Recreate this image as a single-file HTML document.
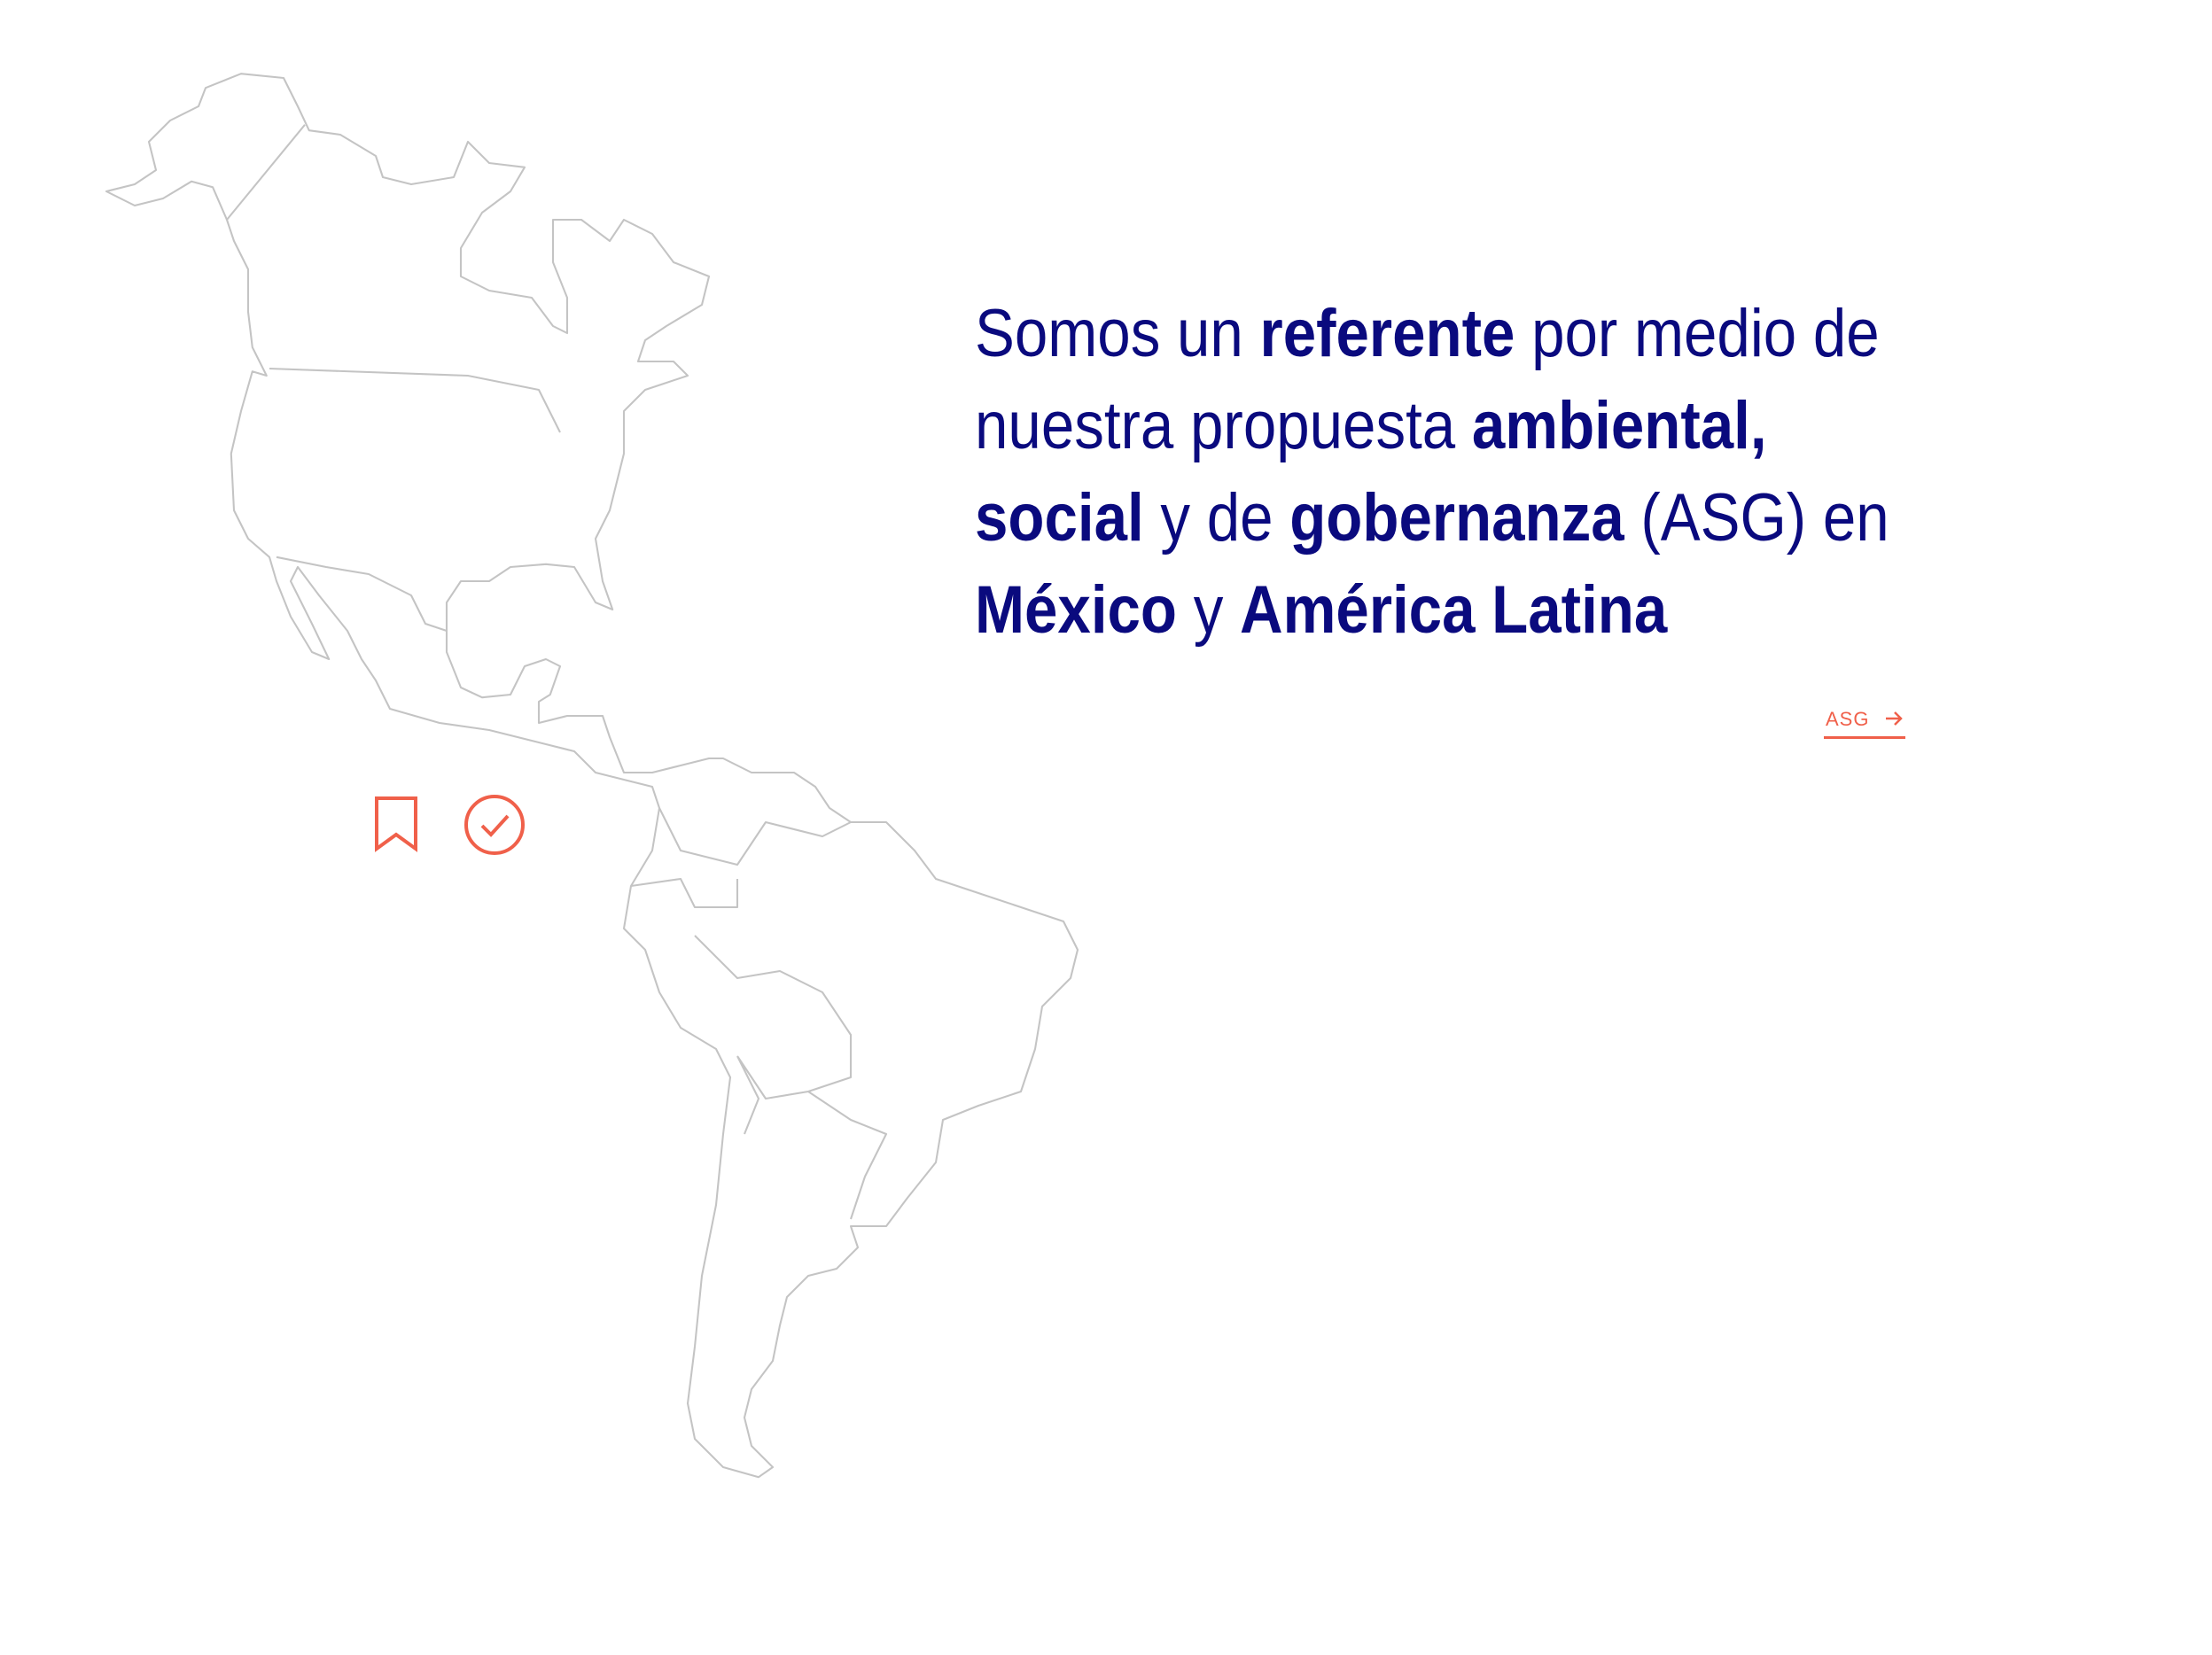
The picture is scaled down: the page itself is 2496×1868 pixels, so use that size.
<!DOCTYPE html>
<html><head><meta charset="utf-8">
<style>
html,body{margin:0;padding:0;background:#fff;}
body{width:2496px;height:1868px;position:relative;overflow:hidden;font-family:"Liberation Sans",sans-serif;}
#map{position:absolute;left:0;top:0;}
#headline{position:absolute;left:1100px;top:325px;color:#0a0a7e;font-size:76px;line-height:104px;white-space:nowrap;transform:scaleX(0.885);transform-origin:0 0;}
#headline b{font-weight:700;}
#asg{position:absolute;left:2058px;top:795px;width:92px;height:36px;border-bottom:3px solid #f0604a;color:#f0604a;font-size:22px;letter-spacing:1px;}
#asg span{position:absolute;left:2px;top:4px;}
#asg svg{position:absolute;right:2px;top:6px;}
</style></head><body>
<svg id="map" width="2496" height="1868" viewBox="0 0 1560 1167.5">
<g fill="none" stroke="#c4c4c4" stroke-width="1.3" stroke-linejoin="round">
<path d="M75,135 L95,130 110,120 105,100 120,85 140,75 145,62 170,52 200,55 210,75 218,92 240,95 265,110 270,125 290,130 320,125 330,100 345,115 370,118 360,135 340,150 325,175 325,195 345,205 375,210 390,230 400,235 400,210 390,185 390,155 410,155 430,170 440,155 460,165 475,185 500,195 495,215 470,230 455,240 450,255 475,255 485,265 470,270 455,275 440,290 440,320 435,340 430,360 420,380 425,410 432,430 420,425 405,400 385,398 360,400 345,410 325,410 315,425 315,460 325,485 340,492 360,490 370,470 385,465 395,470 388,490 380,495 380,510 400,505 425,505 430,520 440,545 460,545 480,540 500,535 510,535 530,545 560,545 575,555 585,570 600,580 625,580 645,600 660,620 690,630 720,640 750,650 760,670 755,690 735,710 730,740 720,770 690,780 665,790 660,820 640,845 625,865 600,865 605,880 590,895 570,900 555,915 550,935 545,960 530,980 525,1000 530,1020 545,1035 535,1042 510,1035 490,1015 485,990 490,950 495,900 505,850 510,800 515,760 505,740 480,725 465,700 455,670 440,655 445,625 460,600 465,570 460,555 440,550 420,545 405,530 385,525 365,520 345,515 310,510 275,500 265,480 255,465 245,445 225,420 210,400 205,410 220,440 232,465 220,460 205,435 195,410 190,393 175,380 165,360 163,320 170,290 178,262 188,265 178,245 175,220 175,190 165,170 160,155 150,132 135,128 115,140 95,145 Z"/>
<path d="M160,155 L215,88 M190,260 L330,265 380,275 395,305 M195,393 L230,400 260,405 290,420 300,440 315,445 M465,570 L480,600 520,610 540,580 580,590 600,580 M445,625 L480,620 490,640 520,640 520,620 M490,660 L520,690 550,685 580,700 600,730 600,760 570,770 540,775 520,745 M520,745 L535,775 525,800 M570,770 L600,790 625,800 610,830 600,860 M540,775 L570,770"/>
</g></svg>
<div id="headline">
<div>Somos un <b>referente</b> por medio de</div>
<div>nuestra propuesta <b>ambiental,</b></div>
<div><b>social</b> y de <b>gobernanza</b> (ASG) en</div>
<div><b>México</b> y <b>América Latina</b></div>
</div>
<a id="asg"><span>ASG</span>
<svg width="22" height="20" viewBox="0 0 22 20"><path d="M2,10 H19 M12,3 L19,10 12,17" fill="none" stroke="#f0604a" stroke-width="2.5"/></svg></a>
<svg style="position:absolute;left:421px;top:898px" width="52" height="64" viewBox="0 0 52 64"><path d="M4,3 H48 V60 L26,44 4,60 Z" fill="none" stroke="#f0604a" stroke-width="4"/></svg>
<svg style="position:absolute;left:522px;top:895px" width="72" height="72" viewBox="0 0 72 72"><circle cx="36" cy="36" r="32" fill="none" stroke="#f0604a" stroke-width="4"/><path d="M22,37 L32,47 51,26" fill="none" stroke="#f0604a" stroke-width="4"/></svg>
</body></html>
